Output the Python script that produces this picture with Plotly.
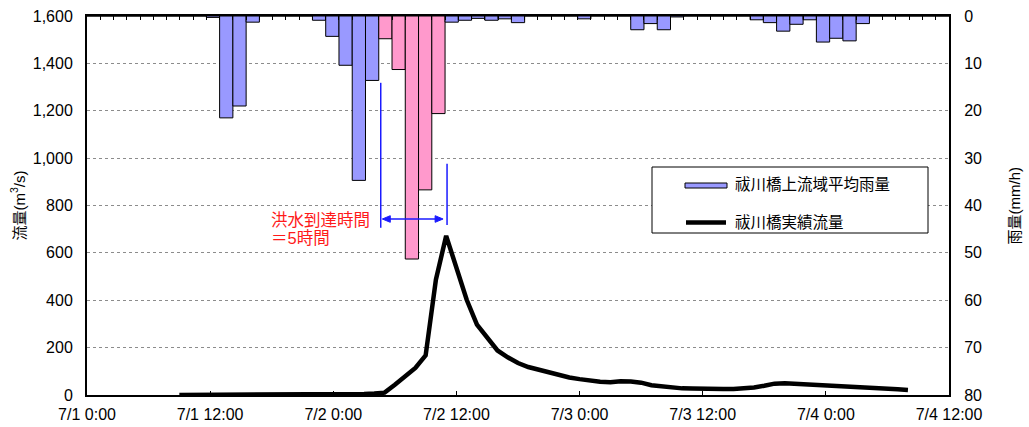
import pandas as pd
import plotly.graph_objects as go

# Observed hourly discharge at 祓川橋 (m3/s), starting 7/1 9:00
flow_start = "2017-07-01 09:00"
flow_values = [
    0, 0, 0, 0, 0, 0, 0, 0,                 # 7/1 9:00-16:00
    1, 1, 1, 2, 2, 2, 2,                    # 17:00-23:00
    3, 3, 3, 4, 6, 10, 43, 76, 114, 167,    # 7/2 0:00-9:00
    487, 672, 543, 402, 297, 240, 188, 159, 135, 118,
    107, 96, 83, 74,                        # to 7/2 23:00
    67, 60, 56, 54, 58, 57, 52, 41, 36, 32, 28, 27,
    25, 25, 25, 25, 27, 32, 39, 48, 50, 48, 45, 42,   # to 7/3 23:00
    41, 38, 35, 32, 31, 28, 27, 24, 21,     # 7/4 0:00-8:00
]

# Basin-average hourly rainfall upstream of 祓川橋 (mm/h), one bar per hour
rain_values = [
    0, 0, 0, 0, 0, 0, 0, 0, 0, 0.3,
    21.5, 19.0, 1.3, 0, 0, 0, 0, 0.9, 4.3, 10.4,
    34.7, 13.6, 4.8, 11.3, 51.3, 36.7, 20.6, 1.3, 0.9, 0.5,
    0.9, 0.6, 1.4, 0, 0, 0, 0, 0.6, 0, 0,
    0, 2.9, 1.6, 2.9, 0.2, 0, 0, 0, 0, 0,
    0.8, 1.4, 3.2, 1.75, 0.8, 5.5, 4.7, 5.25, 1.6, 0,
    0, 0, 0, 0, 0,
]

# Rain hours that produced the flood peak (highlighted)
flood_bars = range(22, 27)
arrival_hours = 5
arrow_start = 21.65  # rain-hour position where the arrival-time bracket begins

legend_labels = ["祓川橋上流域平均雨量", "祓川橋実績流量"]

BLUE_BAR = "#9999FF"
PINK_BAR = "#FF99CC"
ARROW_BLUE = "#1a1aff"

W, H = 1029, 427
PL, PR, PT, PB = 87, 949, 16, 395


def px2x(px):
    return (px - PL) / (PR - PL)


def py2y(py):
    return (PB - py) / (PB - PT)


times = pd.date_range(flow_start, periods=len(flow_values), freq="h")
bar_colors = [PINK_BAR if i in flood_bars else BLUE_BAR for i in range(len(rain_values))]

fig = go.Figure()

fig.add_trace(go.Scatter(
    x=times, y=flow_values, mode="lines",
    line=dict(color="black", width=4.5),
    xaxis="x", yaxis="y", showlegend=False,
))

fig.add_trace(go.Bar(
    x=list(range(len(rain_values))), y=rain_values,
    width=1,
    marker=dict(color=bar_colors, line=dict(color="black", width=1)),
    xaxis="x2", yaxis="y2", showlegend=False,
))

axis_font = dict(size=16, color="black")

fig.update_layout(
    template="none",
    width=W, height=H,
    margin=dict(l=PL, r=W - PR, t=PT, b=H - PB, pad=0, autoexpand=False),
    paper_bgcolor="white", plot_bgcolor="white",
    font=dict(family="Liberation Sans, Noto Sans CJK JP, sans-serif", color="black"),
    showlegend=False,
    xaxis=dict(
        type="date", automargin=False,
        range=["2017-07-01 00:00", "2017-07-04 12:00"],
        tick0="2017-07-01 00:00", dtick=12 * 3600 * 1000,
        tickformat="%-m/%-d %-H:%M",
        ticks="inside", ticklen=4, tickcolor="black", tickwidth=1,
        showline=True, linecolor="black", linewidth=2,
        showgrid=False, zeroline=False, tickfont=axis_font,
        ticklabelstandoff=4,
    ),
    xaxis2=dict(
        overlaying="x", side="top", anchor="y", automargin=False,
        range=[-0.5, len(rain_values) - 0.5],
        tickmode="linear", tick0=-0.5, dtick=1,
        ticks="inside", ticklen=4, tickcolor="black", tickwidth=1,
        showticklabels=False,
        showline=True, linecolor="black", linewidth=2,
        showgrid=False, zeroline=False,
    ),
    yaxis=dict(
        automargin=False,
        range=[0, 1600], dtick=200, tickformat=",d",
        showline=True, linecolor="black", linewidth=2,
        showgrid=True, gridcolor="#8c8c8c", griddash="dot", gridwidth=1,
        zeroline=False, ticks="", tickfont=axis_font,
        ticklabelstandoff=9,
    ),
    yaxis2=dict(
        overlaying="y", side="right", anchor="x", automargin=False,
        range=[80, 0], dtick=10,
        showline=True, linecolor="black", linewidth=2,
        showgrid=False, zeroline=False, ticks="", tickfont=axis_font,
        ticklabelstandoff=10,
    ),
)

shapes = []
annotations = []

# Arrival-time bracket on the rainfall hour scale
arrow_end = arrow_start + arrival_hours
shapes.append(dict(type="line", xref="x2", yref="y2",
                   x0=arrow_start, x1=arrow_start, y0=14.1, y1=44.7,
                   line=dict(color=ARROW_BLUE, width=1.5)))
shapes.append(dict(type="line", xref="x2", yref="y2",
                   x0=arrow_end, x1=arrow_end, y0=31.2, y1=44.1,
                   line=dict(color=ARROW_BLUE, width=1.5)))
arrow_y = 42.85
head_len, head_half = 0.6, 0.7   # in rain-hour / mm units
tip_l, tip_r = arrow_start + 0.12, arrow_end - 0.3
shapes.append(dict(type="line", xref="x2", yref="y2",
                   x0=tip_l + head_len * 0.5, x1=tip_r - head_len * 0.5,
                   y0=arrow_y, y1=arrow_y,
                   line=dict(color=ARROW_BLUE, width=1.5)))
for tip, back in [(tip_l, tip_l + head_len), (tip_r, tip_r - head_len)]:
    shapes.append(dict(
        type="path", xref="x2", yref="y2",
        path=f"M {tip},{arrow_y} L {back},{arrow_y - head_half} "
             f"L {back},{arrow_y + head_half} Z",
        fillcolor=ARROW_BLUE, line=dict(color=ARROW_BLUE, width=1),
    ))

annotations.append(dict(
    xref="paper", yref="paper", x=px2x(269), y=py2y(220),
    xanchor="left", yanchor="middle", showarrow=False,
    text="洪水到達時間", font=dict(size=16.5, color="#ff1a1a"),
))
annotations.append(dict(
    xref="paper", yref="paper", x=px2x(269), y=py2y(238),
    xanchor="left", yanchor="middle", showarrow=False,
    text=f"＝{arrival_hours}時間", font=dict(size=16.5, color="#ff1a1a"),
))

# Axis titles
annotations.append(dict(
    xref="paper", yref="paper", x=px2x(18), y=0.5,
    xanchor="center", yanchor="middle", textangle=-90, showarrow=False,
    text="流量(m<sup>3</sup>/s)", font=dict(size=15),
))
annotations.append(dict(
    xref="paper", yref="paper", x=px2x(1014), y=0.5,
    xanchor="center", yanchor="middle", textangle=-90, showarrow=False,
    text="雨量(mm/h)", font=dict(size=15),
))

# Legend box
shapes.append(dict(type="rect", xref="paper", yref="paper",
                   x0=px2x(652), x1=px2x(928), y0=py2y(233), y1=py2y(167),
                   fillcolor="white", line=dict(color="black", width=1)))
shapes.append(dict(type="rect", xref="paper", yref="paper",
                   x0=px2x(685), x1=px2x(727), y0=py2y(188), y1=py2y(183),
                   fillcolor=BLUE_BAR, line=dict(color="black", width=1)))
shapes.append(dict(type="line", xref="paper", yref="paper",
                   x0=px2x(686), x1=px2x(726), y0=py2y(222.5), y1=py2y(222.5),
                   line=dict(color="black", width=4.5)))
for label, ypx in zip(legend_labels, [185, 222.5]):
    annotations.append(dict(
        xref="paper", yref="paper", x=px2x(733), y=py2y(ypx),
        xanchor="left", yanchor="middle", showarrow=False,
        text=label, font=dict(size=15.5),
    ))

fig.update_layout(shapes=shapes, annotations=annotations)

fig.write_html("out.html")
